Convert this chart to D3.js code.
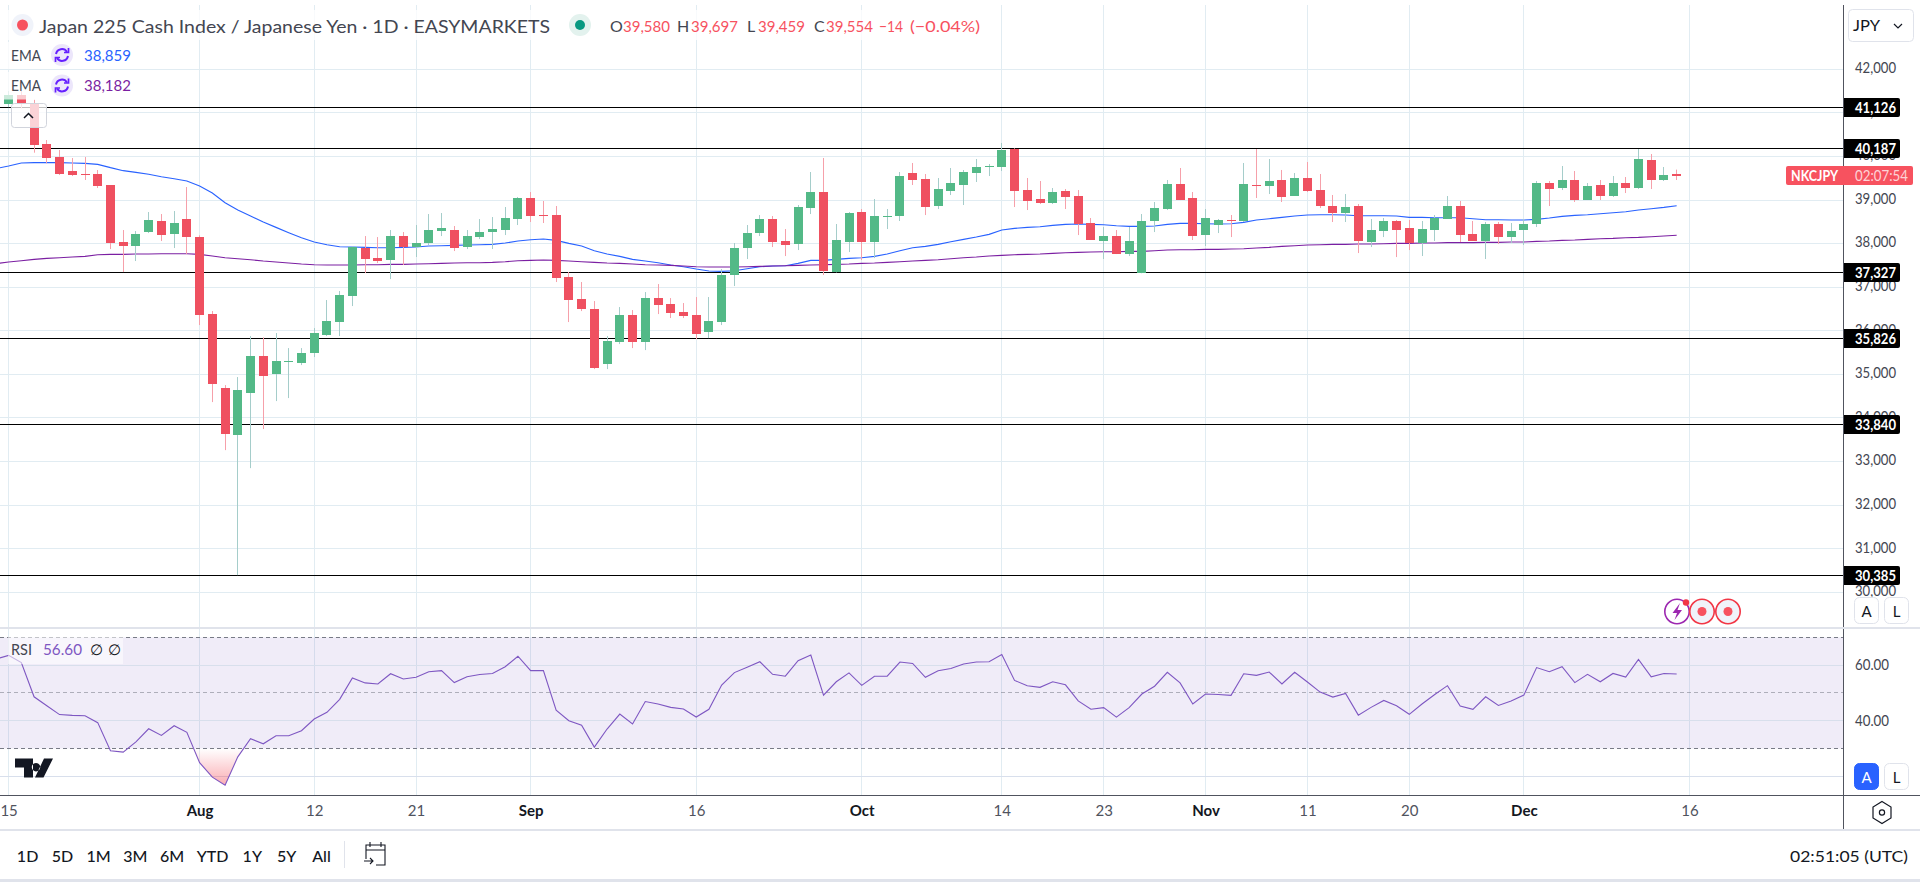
<!DOCTYPE html>
<html>
<head>
<meta charset="utf-8">
<script src="https://cdn.jsdelivr.net/npm/d3@7/dist/d3.min.js"></script>
<style>
html,body{margin:0;padding:0;background:#fff;overflow:hidden}
svg{display:block;font-family:Lato,"Noto Sans",sans-serif}
.tick line,.domain{display:none}
</style>
</head>
<body>
<div id="chart"></div>
<script>
// ---------- data, one entry per session, session 0 = 15 Jul ----------
const open = [41203,41410,41226,40285,39986,39665,39596,39596,39344,38036,37944,38265,38518,38219,38564,38150,36384,34686,33607,34570,35420,35007,35290,35260,35489,35902,36200,36796,37898,37668,37623,38173,37921,38013,38288,38311,37921,38150,38265,38311,38564,39046,38655,38655,37233,36728,36498,35236,35741,36360,35741,36751,36613,36429,36360,35970,36200,37279,37898,38242,38564,38059,37990,38816,39183,37347,38036,38724,38036,38610,38632,39619,39482,38862,39206,39344,39619,39757,39757,40170,39229,39023,38931,39206,39091,38472,38059,38173,37760,37330,38518,38793,39367,39046,38196,38426,38541,38518,39344,39321,39459,39092,39505,39229,38862,38701,38862,38036,38288,38518,38357,38013,38311,38564,38862,38219,38059,38449,38150,38311,38449,39390,39275,39459,39000,39344,39092,39390,39275,39918,39459,39590];
const high = [41500,41500,41300,40376,40147,39963,39986,39688,39344,38311,38288,38724,38678,38747,39298,38190,36453,34754,34938,35879,35849,35948,35603,35603,36062,36705,36912,37940,38173,38150,38311,38265,38426,38678,38701,38403,38311,38563,38609,38839,39068,39183,38977,38862,37347,37118,36682,35879,36544,36475,36888,37072,36750,36636,36774,36774,37416,38013,38426,38655,38632,38334,38885,39642,39964,38449,38724,38793,39023,38793,39642,39849,39596,39504,39734,39688,39941,39826,40308,40186,39505,39436,39275,39252,39229,38587,38380,38311,38380,38678,38954,39459,39734,39183,38793,38564,38656,39849,40170,39941,39689,39619,39872,39596,39115,39137,38908,38564,38587,38541,38541,38518,38656,39091,38977,38518,38495,38495,38472,38564,39436,39436,39780,39665,39390,39459,39550,39527,40170,40055,39757,39697];
const low = [41130,41100,40086,39841,39573,39550,39459,39275,37875,37347,37600,38242,38059,37898,37760,36131,34364,33262,30394,32849,33745,34387,34456,35213,35397,35879,35879,36567,37324,37554,37186,37508,37692,37967,38173,37829,37875,38104,37875,38196,38426,38495,38472,37118,36200,36452,35121,35121,35695,35603,35557,36383,36292,36292,35809,35832,36131,37026,37646,38173,37921,37714,37852,38678,37279,37340,37806,37622,37668,38334,38518,39344,38655,38793,39114,38885,39413,39550,39665,38839,38770,38908,38908,38793,38196,38082,37646,37760,37714,37320,38265,38770,38999,38082,37944,38242,38150,38495,39046,39137,38954,39092,39183,38816,38495,38495,37783,37921,38150,37691,37852,37715,38059,38564,38036,38059,37646,37990,38013,37967,38380,38862,39229,38954,39000,39000,39069,39160,39252,39252,39436,39459];
const close = [41410,41226,40262,39963,39596,39573,39581,39321,38013,37944,38219,38540,38196,38472,38150,36361,34777,33630,34640,35420,34961,35305,35305,35489,35948,36223,36820,37921,37646,37600,38173,37921,38013,38311,38357,37898,38173,38265,38334,38587,39046,38633,38633,37210,36705,36498,35144,35764,36360,35741,36751,36590,36406,36337,35924,36222,37279,37898,38242,38564,38036,37967,38839,39183,37370,38082,38701,38036,38632,38632,39550,39459,38839,39252,39390,39642,39757,39780,40147,39206,38977,38931,39183,39068,38449,38082,38173,37760,38059,38518,38816,39367,38999,38174,38587,38541,38518,39367,39321,39436,39069,39505,39206,38862,38701,38839,38059,38311,38518,38311,38013,38334,38587,38862,38196,38059,38449,38150,38288,38449,39390,39252,39459,39000,39321,39092,39390,39275,39941,39459,39573,39545];
// EMA and RSI begin one session before the first candle
const emaFast = [39719,39780,39849,39857,39861,39857,39849,39841,39818,39742,39673,39634,39589,39535,39489,39436,39321,39160,38938,38770,38632,38495,38372,38250,38135,38036,37974,37928,37921,37913,37906,37906,37913,37921,37944,37951,37959,37967,37974,37982,38013,38059,38089,38104,38074,38005,37944,37837,37760,37707,37638,37600,37561,37508,37469,37416,37370,37362,37378,37424,37469,37485,37492,37546,37615,37615,37638,37661,37676,37707,37760,37837,37906,37936,37982,38043,38097,38150,38212,38311,38349,38372,38387,38418,38441,38449,38441,38433,38410,38395,38395,38403,38441,38464,38464,38456,38449,38456,38487,38540,38571,38602,38632,38655,38663,38663,38655,38640,38640,38640,38632,38602,38602,38594,38594,38594,38571,38548,38548,38540,38540,38556,38586,38625,38648,38663,38686,38709,38732,38770,38801,38831,38869];
const emaSlow = [37539,37577,37608,37638,37661,37676,37692,37707,37745,37753,37753,37760,37760,37768,37768,37768,37753,37715,37676,37653,37630,37600,37577,37554,37531,37515,37508,37508,37508,37515,37515,37523,37523,37531,37538,37546,37554,37561,37561,37569,37584,37608,37615,37623,37615,37600,37584,37569,37554,37546,37531,37515,37508,37500,37485,37469,37462,37462,37462,37469,37477,37485,37492,37500,37508,37515,37523,37531,37546,37554,37569,37584,37600,37615,37630,37653,37676,37692,37715,37730,37745,37753,37760,37776,37791,37799,37806,37814,37814,37822,37822,37837,37852,37860,37860,37868,37868,37875,37883,37898,37914,37937,37952,37967,37974,37982,37982,37990,37990,37998,38005,38005,38013,38013,38021,38021,38021,38028,38028,38036,38036,38051,38059,38074,38082,38097,38112,38120,38135,38143,38158,38173,38190];
const rsi = [62.2,63.5,60.9,48.6,45.4,42.2,41.9,41.8,39.3,29.2,28.7,32.4,37.1,34.7,38.2,35.8,24.9,19.7,16.8,27.0,33.5,31.7,34.6,34.6,36.4,40.6,43.0,47.7,55.4,53.6,53.2,56.9,55.0,55.6,57.6,58.0,53.7,55.8,56.6,57.0,59.4,63.2,58.0,58.0,43.8,40.0,38.4,30.5,37.0,42.4,38.8,46.9,46.0,44.8,44.2,41.3,44.1,52.8,57.3,59.2,61.2,56.7,56.0,61.6,63.6,49.2,54.0,57.2,52.7,56.0,56.0,61.1,60.6,55.6,58.0,58.8,60.4,61.1,61.2,63.8,54.5,52.6,52.0,54.0,52.9,47.1,44.1,44.7,41.3,44.7,49.6,52.4,57.4,53.6,46.0,49.6,49.4,49.1,56.9,56.3,57.5,53.2,57.4,53.9,50.3,48.5,49.8,42.0,44.8,47.3,45.4,42.3,46.0,49.4,52.6,45.3,44.1,48.6,45.5,47.1,49.2,59.1,57.6,59.4,53.7,56.7,54.0,57.0,55.7,62.0,55.8,57.0,56.8];

const priceTicks = [42000,41000,40000,39000,38000,37000,36000,35000,34000,33000,32000,31000,30000];
const levels = [41126,40187,37327,35826,33840,30385];
const rsiGrid = [60,40,20];
const rsiAxisTicks = [60,40];
const rsiBands = [70,50,30];
const timeTickSessions = [0,15,24,32,41,54,67,78,86,94,102,110,119,132];
const timeTickLabels = ["15","Aug","12","21","Sep","16","Oct","14","23","Nov","11","20","Dec","16"];
const monthLabels = ["Aug","Sep","Oct","Nov","Dec"];
const rangeButtons = ["1D","5D","1M","3M","6M","YTD","1Y","5Y","All"];
const lastPrice = 39554;

// ---------- layout ----------
const W=1920,H=882,axisX=1843,paneTop=5,sepY=628,timeY=795,footY=830,stripY=879;
const GRID="#e1ecf2", RED="#ef5060", GREEN="#53b987", WRED="#f6a0aa", WGREEN="#a5cdca";
const x = d3.scaleLinear().domain([0,132]).range([8.6,1689.4]);
const y = d3.scaleLinear().domain([30000,39000]).range([592.3,200]);
const yR = d3.scaleLinear().domain([20,70]).range([776.3,637.3]);

const svg = d3.select("#chart").append("svg").attr("width",W).attr("height",H);
const defs = svg.append("defs");
defs.append("clipPath").attr("id","pc").append("rect").attr("x",0).attr("y",paneTop).attr("width",axisX).attr("height",sepY-paneTop);
defs.append("clipPath").attr("id","rc").append("rect").attr("x",0).attr("y",sepY).attr("width",axisX).attr("height",timeY-sepY);
defs.append("clipPath").attr("id","os").append("rect").attr("x",0).attr("y",yR(30)).attr("width",axisX).attr("height",timeY-yR(30));
const lg = defs.append("linearGradient").attr("id","osg").attr("gradientUnits","userSpaceOnUse")
  .attr("x1",0).attr("x2",0).attr("y1",yR(30)).attr("y2",yR(16.5));
lg.append("stop").attr("offset",0).attr("stop-color","#f23645").attr("stop-opacity",0);
lg.append("stop").attr("offset",1).attr("stop-color","#f23645").attr("stop-opacity",0.42);

function T(px,py,str,o={}){
  const t=svg.append("text").attr("x",px).attr("y",py).attr("dominant-baseline","central")
    .attr("font-size",o.size||15).attr("fill",o.fill||"#131722").text(str);
  if(o.anchor)t.attr("text-anchor",o.anchor);
  if(o.weight)t.attr("font-weight",o.weight);
  if(o.len)t.attr("textLength",o.len).attr("lengthAdjust","spacingAndGlyphs");
  if(o.op)t.attr("fill-opacity",o.op);
  return t;
}

// ---------- grids ----------
const grid = svg.append("g").attr("stroke",GRID).attr("stroke-width",1).attr("shape-rendering","crispEdges");
grid.selectAll(".hp").data(priceTicks).join("line").attr("x1",0).attr("x2",axisX).attr("y1",d=>y(d)).attr("y2",d=>y(d));
grid.selectAll(".v").data(timeTickSessions).join("line").attr("x1",d=>x(d)).attr("x2",d=>x(d)).attr("y1",paneTop).attr("y2",timeY);

// RSI pane
const rp = svg.append("g");
rp.append("rect").attr("x",0).attr("width",axisX).attr("y",yR(70)).attr("height",yR(30)-yR(70)).attr("fill","#7e57c2").attr("fill-opacity",0.115);
rp.selectAll(".rg").data(rsiGrid).join("line").attr("x1",0).attr("x2",axisX).attr("y1",d=>yR(d)).attr("y2",d=>yR(d))
  .attr("stroke","#d8dfec").attr("shape-rendering","crispEdges");
rp.selectAll(".rb").data(rsiBands).join("line").attr("x1",0).attr("x2",axisX).attr("y1",d=>yR(d)).attr("y2",d=>yR(d))
  .attr("stroke","#787b86").attr("stroke-dasharray","4 3").attr("stroke-opacity",d=>d===50?0.55:1).attr("shape-rendering","crispEdges");

// ---------- level lines ----------
svg.append("g").selectAll("line").data(levels).join("line").attr("x1",0).attr("x2",axisX)
  .attr("y1",d=>Math.floor(y(d))+0.5).attr("y2",d=>Math.floor(y(d))+0.5).attr("stroke","#000").attr("stroke-width",1.1);

// ---------- EMAs ----------
const pane = svg.append("g").attr("clip-path","url(#pc)");
const mkLine = (scale)=>d3.line().x((d,i)=>x(i-1)).y(d=>scale(d));
pane.append("path").attr("d",mkLine(y)(emaFast)).attr("fill","none").attr("stroke","#2962ff").attr("stroke-width",1.1);
pane.append("path").attr("d",mkLine(y)(emaSlow)).attr("fill","none").attr("stroke","#7b1fa2").attr("stroke-width",1.1);

// ---------- candles ----------
const sessions = d3.range(open.length);
const left = i=>Math.round(x(i)-4.5);
pane.append("g").selectAll("rect").data(sessions).join("rect")
  .attr("x",i=>left(i)+4).attr("width",1)
  .attr("y",i=>y(high[i])).attr("height",i=>y(low[i])-y(high[i]))
  .attr("fill",i=>close[i]>=open[i]?WGREEN:WRED);
pane.append("g").selectAll("rect").data(sessions).join("rect")
  .attr("x",left).attr("width",9)
  .attr("y",i=>Math.round(y(Math.max(open[i],close[i]))))
  .attr("height",i=>Math.max(1,Math.round(Math.abs(y(open[i])-y(close[i])))))
  .attr("fill",i=>close[i]>=open[i]?GREEN:RED);

// ---------- RSI ----------
const rg = svg.append("g").attr("clip-path","url(#rc)");
rg.append("path").attr("clip-path","url(#os)")
  .attr("d",d3.area().x((d,i)=>x(i-1)).y0(yR(30)).y1(d=>yR(d))(rsi)).attr("fill","url(#osg)");
rg.append("path").attr("d",mkLine(yR)(rsi)).attr("fill","none").attr("stroke","#7e57c2").attr("stroke-width",1.1);

// ---------- TV logo ----------
svg.append("path").attr("transform","translate(15,758.5)").attr("fill","#131722")
  .attr("d","M0 0H18V19H9V9H0ZM21 4.5a4.2 4.2 0 1 0 .01 0ZM29 0H38L28.5 19H20Z");

// ---------- legend veils ----------
svg.append("rect").attr("x",8).attr("y",10).attr("width",990).attr("height",30).attr("fill","#fff").attr("fill-opacity",0.75);
svg.append("rect").attr("x",8).attr("y",42).attr("width",132).attr("height",27).attr("fill","#fff").attr("fill-opacity",0.75);
svg.append("rect").attr("x",0).attr("y",72).attr("width",140).attr("height",27.5).attr("fill","#fff").attr("fill-opacity",0.7);
svg.append("rect").attr("x",8).attr("y",637).attr("width",115).attr("height",27).attr("fill","#fff").attr("fill-opacity",0.55);

// legend texts
svg.append("circle").attr("cx",22.5).attr("cy",25).attr("r",11).attr("fill","#f0f3fa");
svg.append("circle").attr("cx",22.5).attr("cy",25).attr("r",5.5).attr("fill","#f7525f");
T(39,25.5,"Japan 225 Cash Index / Japanese Yen · 1D · EASYMARKETS",{size:18,fill:"#434651",len:511});
svg.append("circle").attr("cx",580).attr("cy",25).attr("r",11).attr("fill","#e3f2ee");
svg.append("circle").attr("cx",580).attr("cy",25).attr("r",5).attr("fill","#089981");
const ohlcLetters=[["O",610],["H",677],["L",747],["C",814]];
const ohlcValues=[["39,580",623,47],["39,697",691,47],["39,459",758,47],["39,554",826,47],["−14",879,24],["(−0.04%)",910,70]];
ohlcLetters.forEach(d=>T(d[1],25.5,d[0],{size:16,fill:"#434651"}));
ohlcValues.forEach(d=>T(d[1],25.5,d[0],{size:16,fill:"#f7525f",len:d[2]}));

function sync(cx,cy){
  svg.append("circle").attr("cx",cx).attr("cy",cy).attr("r",11).attr("fill","#ece6fb");
  const g=svg.append("g").attr("transform",`translate(${cx},${cy})`).attr("fill","none").attr("stroke","#651fff").attr("stroke-width",2);
  g.append("path").attr("d","M-6 -1A6 6 0 0 1 5 -3");
  g.append("path").attr("d","M6 1A6 6 0 0 1 -5 3");
  g.append("path").attr("d","M6.5 -7V-2.5H2").attr("stroke-width",1.7);
  g.append("path").attr("d","M-6.5 7V2.5H-2").attr("stroke-width",1.7);
}
T(11,54.5,"EMA",{size:16,fill:"#434651",len:30});
sync(62,55);
T(84,54.5,"38,859",{size:16,fill:"#2962ff",len:47});
T(11,84.5,"EMA",{size:16,fill:"#434651",len:30});
sync(62,85.5);
T(84,84.5,"38,182",{size:16,fill:"#7b1fa2",len:47});

// collapse button
svg.append("rect").attr("x",11.5).attr("y",103.5).attr("width",35).attr("height",24).attr("rx",3)
  .attr("fill","#fff").attr("fill-opacity",0.75).attr("stroke","#d1d4dc");
svg.append("path").attr("d","M24 118L28.5 113.5L33 118").attr("fill","none").attr("stroke","#131722").attr("stroke-width",1.5);

// RSI legend
T(11,649,"RSI",{size:15,fill:"#434651",len:21});
T(43,649,"56.60",{size:15,fill:"#7e57c2",len:39});
T(90,649,"∅",{size:15,fill:"#131722"});
T(108,649,"∅",{size:15,fill:"#131722"});

// ---------- frame ----------
const frame = svg.append("g").attr("shape-rendering","crispEdges");
frame.append("line").attr("x1",axisX+.5).attr("x2",axisX+.5).attr("y1",paneTop).attr("y2",footY).attr("stroke","#50535e");
frame.append("line").attr("x1",0).attr("x2",W).attr("y1",sepY).attr("y2",sepY).attr("stroke","#e0e3eb").attr("stroke-width",1.5);
frame.append("line").attr("x1",0).attr("x2",W).attr("y1",timeY).attr("y2",timeY).attr("stroke","#50535e").attr("stroke-width",1);
frame.append("line").attr("x1",0).attr("x2",W).attr("y1",footY).attr("y2",footY).attr("stroke","#e0e3eb").attr("stroke-width",1.5);
svg.append("rect").attr("x",0).attr("y",stripY).attr("width",W).attr("height",H-stripY).attr("fill","#e0e3eb");

// ---------- axes ----------
const fmt=d3.format(",");
const pa = svg.append("g").attr("transform",`translate(${axisX+12},-1.5)`)
  .call(d3.axisRight(y).tickValues(priceTicks).tickSize(0).tickPadding(0).tickFormat(fmt));
pa.selectAll("text").attr("font-size",15).attr("font-family","Lato").attr("fill","#434651").attr("textLength",41).attr("lengthAdjust","spacingAndGlyphs");
const ra = svg.append("g").attr("transform",`translate(${axisX+12},0)`)
  .call(d3.axisRight(yR).tickValues(rsiAxisTicks).tickSize(0).tickPadding(0).tickFormat(d3.format(".2f")));
ra.selectAll("text").attr("font-size",15).attr("font-family","Lato").attr("fill","#434651").attr("textLength",34).attr("lengthAdjust","spacingAndGlyphs");
const ta = svg.append("g").attr("transform",`translate(0,${timeY+10})`)
  .call(d3.axisBottom(x).tickValues(timeTickSessions).tickSize(0).tickPadding(0).tickFormat((d,i)=>timeTickLabels[i]));
ta.selectAll("text").attr("font-size",15).attr("font-family","Lato")
  .attr("fill",function(){return monthLabels.includes(this.textContent)?"#131722":"#50535e";})
  .attr("font-weight",function(){return monthLabels.includes(this.textContent)?700:400;});

// level labels
const ll = svg.append("g").selectAll("g").data(levels).join("g").attr("transform",d=>`translate(${axisX+1},${Math.floor(y(d))-9})`);
ll.append("path").attr("d","M0 0H54a2 2 0 0 1 2 2V17a2 2 0 0 1 -2 2H0Z").attr("fill","#000");
ll.append("text").attr("x",11).attr("y",9).attr("dominant-baseline","central").attr("font-size",15).attr("font-weight",700)
  .attr("fill","#fff").attr("textLength",41).attr("lengthAdjust","spacingAndGlyphs").text(fmt);

// current price tag
const py = y(lastPrice);
svg.append("rect").attr("x",1786).attr("y",Math.round(py)-10).attr("width",127).attr("height",19).attr("rx",2).attr("fill","#f7525f");
T(1791,py-.5,"NKCJPY",{size:15,fill:"#fff",len:47,weight:700});
T(1855,py-.5,"02:07:54",{size:15,fill:"#fff",len:53,op:0.75});

// ---------- right-side controls ----------
svg.append("rect").attr("x",1848.5).attr("y",9.5).attr("width",65).attr("height",32).attr("rx",4).attr("fill","#fff").attr("stroke","#e0e3eb");
T(1853,24.5,"JPY",{size:16,fill:"#131722",len:27});
svg.append("path").attr("d","M1894 24L1898 28L1902 24").attr("fill","none").attr("stroke","#131722").attr("stroke-width",1.2);
function btn(bx,by,txt,on){
  svg.append("rect").attr("x",bx+.5).attr("y",by+.5).attr("width",24).attr("height",26).attr("rx",5)
    .attr("fill",on?"#2962ff":"#fff").attr("stroke",on?"#2962ff":"#e0e3eb");
  T(bx+12.5,by+14,txt,{size:15,fill:on?"#fff":"#131722",anchor:"middle"});
}
btn(1854,597,"A",false); btn(1884,597,"L",false);
btn(1854,763,"A",true);  btn(1884,763,"L",false);
// settings hexagon
const hexR=[[0,-11],[9,-5.5],[9,5.5],[0,11],[-9,5.5],[-9,-5.5]];
svg.append("path").attr("transform","translate(1882,812.5)").attr("fill","none").attr("stroke","#131722").attr("stroke-width",1.2)
  .attr("d",d3.line().curve(d3.curveLinearClosed)(hexR));
svg.append("circle").attr("cx",1882).attr("cy",812.5).attr("r",2.6).attr("fill","none").attr("stroke","#131722").attr("stroke-width",1.2);

// event badges
svg.append("circle").attr("cx",1677).attr("cy",611.5).attr("r",12.2).attr("fill","#fff").attr("stroke","#9c27b0").attr("stroke-width",1.6);
svg.append("path").attr("d","M1680 603L1672.5 613H1677L1674.5 620L1682 610H1677.5Z").attr("fill","#9c27b0");
[1702,1728].forEach(cx=>{
  svg.append("circle").attr("cx",cx).attr("cy",611.5).attr("r",12.2).attr("fill","#f0f3fa").attr("stroke","#f23645").attr("stroke-width",1.6);
  svg.append("circle").attr("cx",cx).attr("cy",611.5).attr("r",4.5).attr("fill","#f7525f");
});
svg.append("circle").attr("cx",1686).attr("cy",602.5).attr("r",3.2).attr("fill","#f23645");

// ---------- footer ----------
const rangeX=[27.6,62.5,98.6,135.3,172,212.5,252.3,286.6,321.5];
rangeButtons.forEach((b,i)=>T(rangeX[i],855,b,{size:16,fill:"#131722",anchor:"middle",weight:500}));
svg.append("line").attr("x1",344.5).attr("x2",344.5).attr("y1",841).attr("y2",868).attr("stroke","#e0e3eb");
svg.append("path").attr("fill","none").attr("stroke","#131722").attr("stroke-width",1.1)
  .attr("d","M366 859V845H385V865H376M366 850H385M370 842V847M381 842V847M364 861H373M370 858L373 861L370 864");
T(1790,855,"02:51:05 (UTC)",{size:16,fill:"#131722",len:118});
</script>
</body>
</html>
